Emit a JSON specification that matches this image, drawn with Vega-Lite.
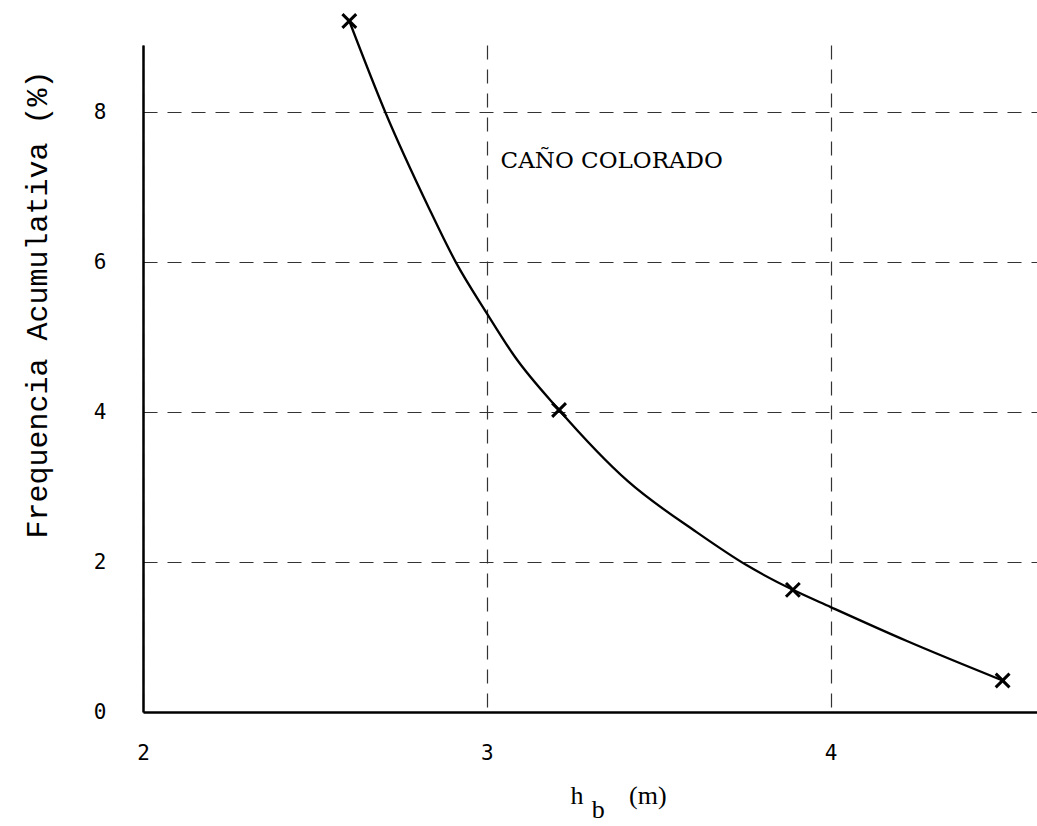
{
  "$schema": "https://vega.github.io/schema/vega-lite/v6.json",
  "width": 894,
  "height": 667,
  "autosize": {"type": "none"},
  "padding": {"left": 143, "top": 45, "right": 0, "bottom": 114},
  "background": "white",
  "config": {"view": {"stroke": null}},
  "datasets": {
    "curve": [
      {"x": 2.60, "y": 9.22},
      {"x": 2.705, "y": 8.0},
      {"x": 2.83, "y": 6.74},
      {"x": 2.91, "y": 6.0},
      {"x": 3.0, "y": 5.32},
      {"x": 3.08, "y": 4.75},
      {"x": 3.21, "y": 4.03},
      {"x": 3.41, "y": 3.08},
      {"x": 3.61, "y": 2.40},
      {"x": 3.755, "y": 1.96},
      {"x": 3.89, "y": 1.63},
      {"x": 4.0, "y": 1.40},
      {"x": 4.22, "y": 0.95},
      {"x": 4.50, "y": 0.42}
    ],
    "marks": [
      {"x": 2.60, "y": 9.22},
      {"x": 3.21, "y": 4.03},
      {"x": 3.89, "y": 1.63},
      {"x": 4.50, "y": 0.42}
    ],
    "labels": [
      {"x": 3.04, "y": 7.35, "label": "CAÑO COLORADO"}
    ],
    "sub": [
      {"x": 3.305, "y": -1.42, "label": "b"}
    ]
  },
  "encoding": {
    "x": {
      "field": "x", "type": "quantitative",
      "scale": {"domain": [2, 4.6], "nice": false, "zero": false},
      "axis": {
        "values": [2, 3, 4], "format": "d",
        "grid": true, "gridDash": [14, 10], "gridColor": "#333", "gridWidth": 1.2,
        "ticks": false, "domainColor": "black", "domainWidth": 2.5,
        "labelFont": "DejaVu Sans Mono", "labelFontSize": 21, "labelColor": "black",
        "labelPadding": 30, "labelFlush": false,
        "title": "h\u00a0\u00a0\u00a0\u00a0\u00a0\u00a0\u00a0(m)", "titleFont": "Liberation Serif", "titleFontSize": 26,
        "titleFontWeight": "normal", "titleColor": "black",
        "titleX": 427, "titleY": 91, "titleBaseline": "alphabetic", "titleAlign": "left"
      }
    },
    "y": {
      "field": "y", "type": "quantitative",
      "scale": {"domain": [0, 8.9], "nice": false, "zero": true},
      "axis": {
        "values": [0, 2, 4, 6, 8], "format": "d",
        "grid": true, "gridDash": [14, 10], "gridColor": "#333", "gridWidth": 1.2,
        "ticks": false, "domainColor": "black", "domainWidth": 2.5,
        "labelFont": "DejaVu Sans Mono", "labelFontSize": 21, "labelColor": "black",
        "labelPadding": 37,
        "title": "Frequencia Acumulativa (%)", "titleFont": "Liberation Mono", "titleFontSize": 30,
        "titleFontWeight": "normal", "titleColor": "black",
        "titleX": -106, "titleY": 259, "titleBaseline": "middle", "titleAlign": "center", "titleAngle": 270
      }
    }
  },
  "layer": [
    {
      "data": {"name": "curve"},
      "mark": {"type": "line", "interpolate": "monotone", "color": "black", "strokeWidth": 2.3}
    },
    {
      "data": {"name": "marks"},
      "mark": {"type": "point", "shape": "M-1,-1L1,1M-1,1L1,-1", "filled": false, "stroke": "black", "strokeWidth": 3, "size": 190, "opacity": 1}
    },
    {
      "data": {"name": "labels"},
      "mark": {"type": "text", "align": "left", "baseline": "middle", "font": "DejaVu Serif", "fontSize": 23, "color": "black"},
      "encoding": {"text": {"field": "label"}}
    },
    {
      "data": {"name": "sub"},
      "mark": {"type": "text", "align": "left", "baseline": "alphabetic", "font": "Liberation Serif", "fontSize": 26, "color": "black"},
      "encoding": {"text": {"field": "label"}}
    }
  ]
}
